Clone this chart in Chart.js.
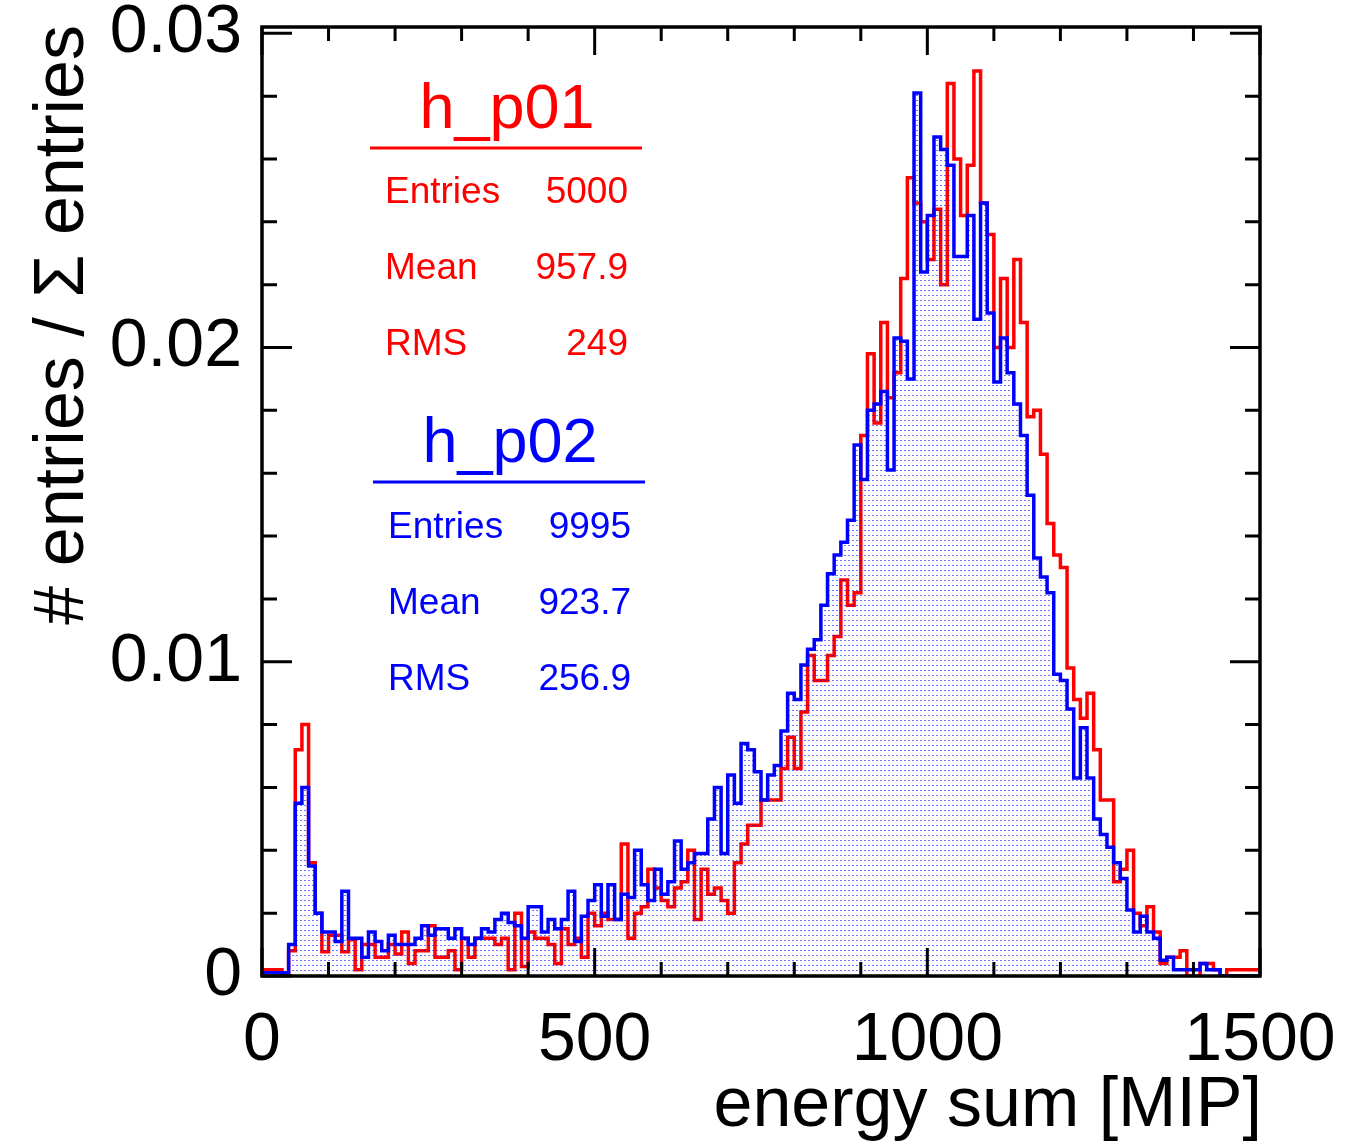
<!DOCTYPE html>
<html lang="en">
<head>
<meta charset="UTF-8">
<title>energy sum</title>
<script src="https://cdn.jsdelivr.net/npm/chart.js"></script>
<style>
  html, body { margin: 0; padding: 0; background: #fff; }
</style>
</head>
<body>
<canvas id="chart" width="1356" height="1143"></canvas>
<script>
// histogram bins: 150 bins of 10 MIP from 0 to 1500
const binWidth = 10;
const nBins = 150;

// h_p01 (red), fraction of entries per bin
const redValues = [
  0.0002, 0.0002, 0.0002, 0, 0.0008, 0.0072, 0.0080, 0.0036, 0.0020, 0.00077,
  0.0013, 0.0013, 0.00077, 0.00115, 0.0002, 0.0010, 0.0010, 0.0006, 0.0006, 0.0010,
  0.0007, 0.0014, 0.0004, 0.0008, 0.0008, 0.0016, 0.0006, 0.0006, 0.0008, 0.0002,
  0.0012, 0.0006, 0.0012, 0.0012, 0.0012, 0.0010, 0.0012, 0.0002, 0.0020, 0.0003,
  0.0014, 0.0012, 0.0012, 0.0010, 0.0004, 0.0015, 0.0010, 0.0012, 0.0006, 0.0020,
  0.0016, 0.0020, 0.0018, 0.0018, 0.0042, 0.0012, 0.0020, 0.0022, 0.0034, 0.0028,
  0.0024, 0.0022, 0.0028, 0.0030, 0.0040, 0.0018, 0.0034, 0.0026, 0.0028, 0.0024,
  0.0020, 0.0036, 0.0042, 0.0048, 0.0048, 0.0056, 0.0056, 0.0056, 0.0066, 0.0076,
  0.0066, 0.0084, 0.0102, 0.0094, 0.0094, 0.0102, 0.0108, 0.0126, 0.0118, 0.0122,
  0.0172, 0.0198, 0.0176, 0.0208, 0.0184, 0.0192, 0.0222, 0.0254, 0.0246, 0.0240,
  0.0228, 0.0244, 0.0220, 0.0284, 0.0260, 0.0242, 0.0258, 0.0288, 0.0246, 0.0236,
  0.0200, 0.0222, 0.0200, 0.0228, 0.0208, 0.0178, 0.0180, 0.0166, 0.0144, 0.0134,
  0.0130, 0.0098, 0.0088, 0.0082, 0.0090, 0.0072, 0.0056, 0.0056, 0.0030, 0.0034,
  0.0040, 0.0020, 0.0016, 0.0022, 0.0014, 0.0004, 0.0006, 0.0006, 0.0008, 0,
  0, 0.0004, 0.0004, 0.0002, 0, 0.0002, 0.0002, 0.0002, 0.0002, 0.0002
];

// h_p02 (blue, filled)
const blueValues = [
  0.0001, 0.0001, 0.0001, 0.0001, 0.0010, 0.0055, 0.0060, 0.0035, 0.0020, 0.0014,
  0.0014, 0.0011, 0.0027, 0.0012, 0.0012, 0.0006, 0.0014, 0.0011, 0.0008, 0.0013,
  0.0010, 0.0010, 0.0010, 0.0012, 0.0016, 0.0013, 0.0015, 0.0015, 0.0012, 0.0015,
  0.0012, 0.0010, 0.0012, 0.0015, 0.0014, 0.0018, 0.0020, 0.0017, 0.0016, 0.0012,
  0.0022, 0.0022, 0.0014, 0.0018, 0.0015, 0.0018, 0.0027, 0.0011, 0.0019, 0.0024,
  0.0029, 0.0019, 0.0029, 0.0018, 0.0026, 0.0025, 0.0040, 0.0029, 0.0024, 0.0034,
  0.0026, 0.0030, 0.0043, 0.0034, 0.0036, 0.0039, 0.0039, 0.0050, 0.0060, 0.0039,
  0.0064, 0.0055, 0.0074, 0.0072, 0.0065, 0.0056, 0.0064, 0.0067, 0.0078, 0.0090,
  0.0088, 0.0099, 0.0104, 0.0107, 0.0118, 0.0128, 0.0134, 0.0138, 0.0145, 0.0169,
  0.0158, 0.0180, 0.0182, 0.0186, 0.0161, 0.0203, 0.0202, 0.0190, 0.0281, 0.0224,
  0.0242, 0.0267, 0.0263, 0.0258, 0.0229, 0.0229, 0.0242, 0.0209, 0.0246, 0.0211,
  0.0189, 0.0203, 0.0192, 0.0182, 0.0172, 0.0153, 0.0133, 0.0127, 0.0122, 0.0096,
  0.0094, 0.0085, 0.0063, 0.0079, 0.0063, 0.0050, 0.0045, 0.0041, 0.0036, 0.0031,
  0.0021, 0.0014, 0.0019, 0.0014, 0.0012, 0.0005, 0.0006, 0.0002, 0.0002, 0.0002,
  0.0002, 0.0004, 0.0002, 0.0002, 0, 0, 0, 0, 0, 0
];

const xTickValues = [0, 500, 1000, 1500];
const yTickValues = [0, 0.01, 0.02, 0.03];
const yTickLabels = ['0', '0.01', '0.02', '0.03'];

const redStats = { name: 'h_p01', rows: [['Entries', '5000'], ['Mean', '957.9'], ['RMS', '249']] };
const blueStats = { name: 'h_p02', rows: [['Entries', '9995'], ['Mean', '923.7'], ['RMS', '256.9']] };

const FONT = '"Liberation Sans", Arial, Helvetica, sans-serif';

// one point per bin's lower edge, plus the upper edge of the last bin
function histPoints(values) {
  const pts = values.map((v, i) => ({ x: i * binWidth, y: v }));
  pts.push({ x: nBins * binWidth, y: values[values.length - 1] });
  return pts;
}

function dotPattern() {
  const c = document.createElement('canvas');
  c.width = 4; c.height = 5;
  const g = c.getContext('2d');
  g.fillStyle = 'rgba(0,0,255,0.55)';
  g.fillRect(0, 0, 2, 1);
  return g.createPattern(c, 'repeat');
}

const frameAndText = {
  id: 'frameAndText',
  afterDatasetsDraw(chart) {
    const { ctx, chartArea: a, scales: { x, y } } = chart;
    ctx.save();
    ctx.strokeStyle = '#000';
    ctx.lineWidth = 3;
    ctx.beginPath();
    // x ticks, inside, top and bottom
    for (let v = 0; v <= 1500; v += 100) {
      const px = x.getPixelForValue(v);
      const len = v % 500 === 0 ? 28 : 14;
      ctx.moveTo(px, a.bottom); ctx.lineTo(px, a.bottom - len);
      ctx.moveTo(px, a.top); ctx.lineTo(px, a.top + len);
    }
    // y ticks, inside, left and right
    for (let k = 0; k <= 15; k++) {
      const py = y.getPixelForValue(k * 0.002);
      const len = k % 5 === 0 ? 30 : 15;
      ctx.moveTo(a.left, py); ctx.lineTo(a.left + len, py);
      ctx.moveTo(a.right, py); ctx.lineTo(a.right - len, py);
    }
    ctx.stroke();
    ctx.lineWidth = 3.5;
    ctx.strokeRect(a.left, a.top, a.right - a.left, a.bottom - a.top);

    // axis titles
    ctx.fillStyle = '#000';
    ctx.font = '70px ' + FONT;
    ctx.textAlign = 'right';
    ctx.textBaseline = 'alphabetic';
    ctx.fillText('energy sum [MIP]', 1262, 1126);
    ctx.save();
    ctx.translate(83, 25);
    ctx.rotate(-Math.PI / 2);
    ctx.fillText('# entries / \u03A3 entries', 0, 0);
    ctx.restore();

    // stats boxes
    drawStats(ctx, redStats, 'red', { cx: 507, titleY: 128, lineY: 148, x0: 370, x1: 642, labelX: 385, valueX: 628, rowY: [203, 279, 355] });
    drawStats(ctx, blueStats, 'blue', { cx: 510, titleY: 462, lineY: 482, x0: 373, x1: 645, labelX: 388, valueX: 631, rowY: [538, 614, 690] });
    ctx.restore();
  }
};

function drawStats(ctx, stats, color, p) {
  ctx.fillStyle = color;
  ctx.strokeStyle = color;
  ctx.font = '63px ' + FONT;
  ctx.textAlign = 'center';
  ctx.fillText(stats.name, p.cx, p.titleY);
  ctx.lineWidth = 3;
  ctx.beginPath();
  ctx.moveTo(p.x0, p.lineY); ctx.lineTo(p.x1, p.lineY);
  ctx.stroke();
  ctx.font = '37px ' + FONT;
  stats.rows.forEach((r, i) => {
    ctx.textAlign = 'left';
    ctx.fillText(r[0], p.labelX, p.rowY[i]);
    ctx.textAlign = 'right';
    ctx.fillText(r[1], p.valueX, p.rowY[i]);
  });
}

const ctx = document.getElementById('chart').getContext('2d');
const chart = new Chart(ctx, {
  type: 'line',
  data: {
    datasets: [
      {
        label: 'h_p02',
        data: histPoints(blueValues),
        borderColor: '#0000ff',
        borderWidth: 3.5,
        backgroundColor: dotPattern(),
        fill: 'origin',
        stepped: 'before',
        pointRadius: 0
      },
      {
        label: 'h_p01',
        data: histPoints(redValues),
        borderColor: '#ff0000',
        borderWidth: 3.5,
        fill: false,
        stepped: 'before',
        pointRadius: 0
      }
    ]
  },
  options: {
    responsive: false,
    devicePixelRatio: 1,
    animation: false,
    layout: { padding: { left: 0, right: 96, top: 27, bottom: 0 } },
    plugins: { legend: { display: false }, tooltip: { enabled: false } },
    scales: {
      x: {
        type: 'linear',
        min: 0,
        max: 1500,
        grid: { display: false },
        border: { display: false },
        afterBuildTicks: (s) => { s.ticks = xTickValues.map(v => ({ value: v })); },
        afterFit: (s) => { s.height = 167; s.paddingLeft = 0; s.paddingRight = 0; },
        ticks: {
          color: '#000',
          font: { family: FONT, size: 68 },
          padding: 16,
          maxRotation: 0,
          callback: (v) => String(v)
        }
      },
      y: {
        min: 0,
        max: 0.0302,
        grid: { display: false },
        border: { display: false },
        afterBuildTicks: (s) => { s.ticks = yTickValues.map(v => ({ value: v })); },
        afterFit: (s) => { s.width = 262; s.paddingTop = 0; s.paddingBottom = 0; },
        ticks: {
          color: '#000',
          font: { family: FONT, size: 68 },
          padding: 12,
          callback: (v) => yTickLabels[yTickValues.indexOf(v)]
        }
      }
    }
  },
  plugins: [frameAndText]
});
</script>
</body>
</html>
